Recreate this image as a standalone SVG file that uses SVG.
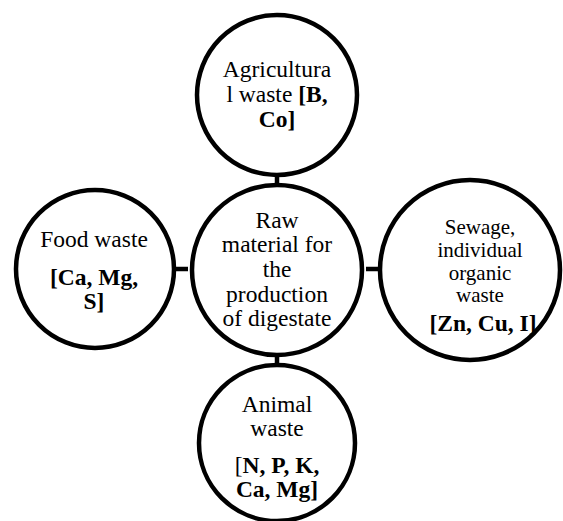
<svg xmlns="http://www.w3.org/2000/svg" width="563" height="521" viewBox="0 0 563 521">
<style>
.c{fill:#fff;stroke:#000;stroke-width:4.5}
.l{stroke:#000;stroke-width:4.5}
text{font-family:'Liberation Serif','DejaVu Serif',serif;font-size:23.5px;fill:#000;text-anchor:middle}
.b{font-weight:bold}
.s{font-size:21px}
</style>
<rect width="563" height="521" fill="#fff"/>
<g id="connectors">
<line class="l" x1="277" y1="175" x2="277" y2="185"/>
<line class="l" x1="277" y1="355" x2="277" y2="365"/>
<line class="l" x1="176" y1="269" x2="188" y2="269"/>
<line class="l" x1="366" y1="269" x2="380" y2="269"/>
</g>
<g id="center">
<circle class="c" cx="277" cy="270" r="85"/>
<text x="277" y="228">Raw</text>
<text x="277" y="252">material for</text>
<text x="277" y="277">the</text>
<text x="277" y="302">production</text>
<text x="277" y="326">of digestate</text>
</g>
<g id="top">
<circle class="c" cx="277" cy="95" r="80"/>
<text x="277" y="77">Agricultura</text>
<text x="277" y="102">l waste <tspan class="b">[B,</tspan></text>
<text x="277" y="127" class="b">Co]</text>
</g>
<g id="left">
<circle class="c" cx="95" cy="269" r="79"/>
<text x="94" y="247">Food waste</text>
<text x="94" y="285" class="b">[Ca, Mg,</text>
<text x="94" y="309" class="b">S]</text>
</g>
<g id="right">
<circle class="c" cx="470" cy="270" r="90"/>
<text x="480" y="234" class="s">Sewage,</text>
<text x="480" y="257" class="s">individual</text>
<text x="480" y="280" class="s">organic</text>
<text x="480" y="302" class="s">waste</text>
<text x="483" y="331" class="b">[Zn, Cu, I]</text>
</g>
<g id="bottom">
<circle class="c" cx="277" cy="443" r="78"/>
<text x="277" y="412">Animal</text>
<text x="277" y="436">waste</text>
<text x="277" y="473">[<tspan class="b">N, P, K,</tspan></text>
<text x="277" y="497" class="b">Ca, Mg]</text>
</g>
</svg>
